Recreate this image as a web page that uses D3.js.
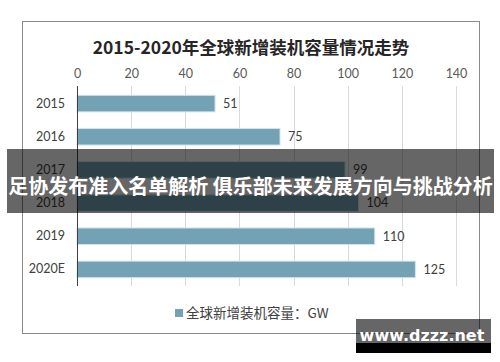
<!DOCTYPE html>
<html><head><meta charset="utf-8">
<script src="https://cdn.jsdelivr.net/npm/d3@7/dist/d3.min.js"></script>
<style>body{margin:0;background:#fff}svg{display:block}</style>
</head><body>
<script>
const categories = ["2015","2016","2017","2018","2019","2020E"];
const values = [51,75,99,104,110,125];
const ticks = [0,20,40,60,80,100,120,140];
const title = "2015-2020年全球新增装机容量情况走势";
const legendLabel = "全球新增装机容量：GW";
const bannerText = "足协发布准入名单解析 俱乐部未来发展方向与挑战分析";
const watermark = "www.dzzz.net";

const W = 500, H = 362;
const svg = d3.select("body").append("svg").attr("width", W).attr("height", H);
const latin = "Lato, 'Open Sans', 'Noto Sans CJK SC', sans-serif";
const cjk = "'Noto Sans CJK SC', 'Noto Sans', sans-serif";

// chart frame
svg.append("rect").attr("x",22.5).attr("y",21.5).attr("width",457).attr("height",312)
  .attr("fill","#fff").attr("stroke","#8a8a8a").attr("stroke-width",1);

svg.append("text").attr("x",251).attr("y",54).attr("text-anchor","middle")
  .attr("font-family",cjk).attr("font-weight","bold").attr("font-size",17.5)
  .attr("fill","#262626").text(title);

const x = d3.scaleLinear().domain([0,140]).range([77,456]);
const y = d3.scaleBand().domain(categories).range([87,286]).paddingInner(0.5).paddingOuter(0.25);

// grid
svg.append("g").selectAll("line").data(ticks.slice(1)).join("line")
  .attr("x1",d=>Math.round(x(d))+0.5).attr("x2",d=>Math.round(x(d))+0.5)
  .attr("y1",86).attr("y2",286).attr("stroke","#d9d9d9");

// top axis labels
const ax = svg.append("g").attr("transform","translate(0,86)")
  .call(d3.axisTop(x).tickValues(ticks).tickSize(0).tickPadding(8));
ax.select(".domain").remove();
ax.selectAll("text").attr("font-family",latin).attr("font-size",12.5).attr("fill","#595959");

// bars
svg.append("g").selectAll("rect").data(values).join("rect")
  .attr("x",x(0)).attr("y",(d,i)=>y(categories[i]))
  .attr("width",d=>x(d)-x(0)).attr("height",y.bandwidth())
  .attr("fill","#73a2b4").attr("stroke","#d6e5eb").attr("stroke-width",1);

// axis line
svg.append("line").attr("x1",77.5).attr("x2",77.5).attr("y1",86).attr("y2",286)
  .attr("stroke","#404040").attr("stroke-width",1);

// category labels
const ay = svg.append("g").attr("transform","translate(65,0)")
  .call(d3.axisLeft(y).tickSize(0).tickPadding(0));
ay.select(".domain").remove();
ay.selectAll("text").attr("font-family",latin).attr("font-size",12.5).attr("fill","#404040");

// value labels
svg.append("g").selectAll("text").data(values).join("text")
  .attr("x",d=>x(d)+8).attr("y",(d,i)=>y(categories[i])+y.bandwidth()/2)
  .attr("dy","0.35em").attr("font-family",latin).attr("font-size",12.5)
  .attr("fill","#404040").text(d=>d);

// legend
svg.append("rect").attr("x",175).attr("y",309).attr("width",8).attr("height",8).attr("fill","#73a2b4");
svg.append("text").attr("x",186).attr("y",318).attr("font-family",cjk).attr("font-size",13.5)
  .attr("fill","#404040").text(legendLabel);

// banner overlay
svg.append("rect").attr("x",7).attr("y",149).attr("width",487).attr("height",64)
  .attr("fill","rgba(0,0,0,0.6)");
svg.append("text").attr("x",250.5).attr("y",187).attr("dy","0.35em").attr("text-anchor","middle")
  .attr("font-family",cjk).attr("font-weight","bold").attr("font-size",20)
  .attr("fill","#fff").text(bannerText);

// watermark
svg.append("rect").attr("x",356).attr("y",319).attr("width",135).attr("height",24).attr("fill","rgba(0,0,0,0.6)");
svg.append("rect").attr("x",356).attr("y",343).attr("width",135).attr("height",10).attr("fill","#000");
svg.append("text").attr("x",422).attr("y",341).attr("text-anchor","middle")
  .attr("font-family","'DejaVu Sans', sans-serif").attr("font-weight","bold").attr("font-size",16)
  .attr("fill","#fff").text(watermark);
</script>
</body></html>
